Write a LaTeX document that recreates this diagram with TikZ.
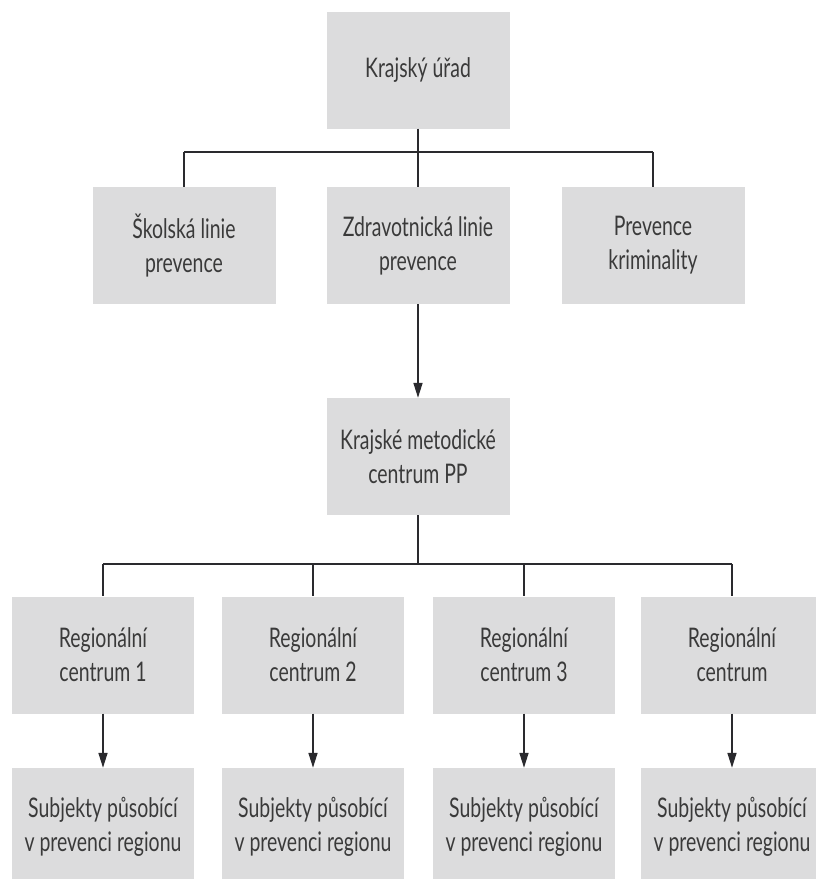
\documentclass[tikz,border=0pt]{standalone}
\usepackage{fontspec}
\setmainfont{Lato}[FakeStretch=0.72]
\usetikzlibrary{arrows.meta}
\definecolor{boxgray}{HTML}{DCDCDD}
\definecolor{txtgray}{HTML}{3A3A3A}
\definecolor{linegray}{HTML}{2A2A2E}
\tikzset{
  orgbox/.style={rectangle, fill=boxgray, minimum width=183pt, minimum height=117pt,
    inner sep=0pt, align=center, text=txtgray, font=\fontsize{27}{34}\selectfont},
  busline/.style={draw=linegray, line width=2.6pt},
  stem/.style={draw=linegray, line width=1.6pt},
  arr/.style={draw=linegray, line width=1.6pt, -{Triangle[length=15pt,width=9pt]}}
}
\begin{document}
\begin{tikzpicture}[x=1pt,y=-1pt]
\useasboundingbox (0,0) rectangle (815,879);
\node[orgbox] (kraj) at (418,70) {Krajský úřad};
\node[orgbox] (skol) at (184,245.5) {Školská linie\\prevence};
\node[orgbox] (zdrav) at (418,245.5) {Zdravotnická linie\\prevence};
\node[orgbox] (krim) at (653,245.5) {Prevence\\kriminality};
\node[orgbox] (kmc) at (418,456.5) {Krajské metodické\\centrum PP};
\node[orgbox, minimum width=182pt] (r1) at (103,655) {Regionální\\centrum 1};
\node[orgbox, minimum width=182pt] (r2) at (313,655) {Regionální\\centrum 2};
\node[orgbox, minimum width=182pt] (r3) at (524,655) {Regionální\\centrum 3};
\node[orgbox, minimum width=182pt] (r4) at (732,655) {Regionální\\centrum};
\node[orgbox, minimum width=182pt] (s1) at (103,826.5) {Subjekty působící\\v prevenci regionu};
\node[orgbox, minimum width=182pt] (s2) at (313,826.5) {Subjekty působící\\v prevenci regionu};
\node[orgbox, minimum width=182pt] (s3) at (524,826.5) {Subjekty působící\\v prevenci regionu};
\node[orgbox, minimum width=182pt] (s4) at (732,826.5) {Subjekty působící\\v prevenci regionu};
% first bus
\coordinate (b1) at (418,152);
\draw[busline] (skol.north |- b1) -- (krim.north |- b1);
\draw[stem] (kraj.south) -- (zdrav.north);
\draw[stem] (skol.north |- b1) -- (skol.north);
\draw[stem] (krim.north |- b1) -- (krim.north);
\draw[arr] (zdrav.south) -- (kmc.north);
% second bus
\coordinate (b2) at (418,564);
\draw[busline] (r1.north |- b2) -- (r4.north |- b2);
\draw[stem] (kmc.south) -- (b2);
\foreach \r in {r1,r2,r3,r4} {\draw[stem] (\r.north |- b2) -- (\r.north);}
\draw[arr] (r1.south) -- (s1.north);
\draw[arr] (r2.south) -- (s2.north);
\draw[arr] (r3.south) -- (s3.north);
\draw[arr] (r4.south) -- (s4.north);
\end{tikzpicture}
\end{document}
